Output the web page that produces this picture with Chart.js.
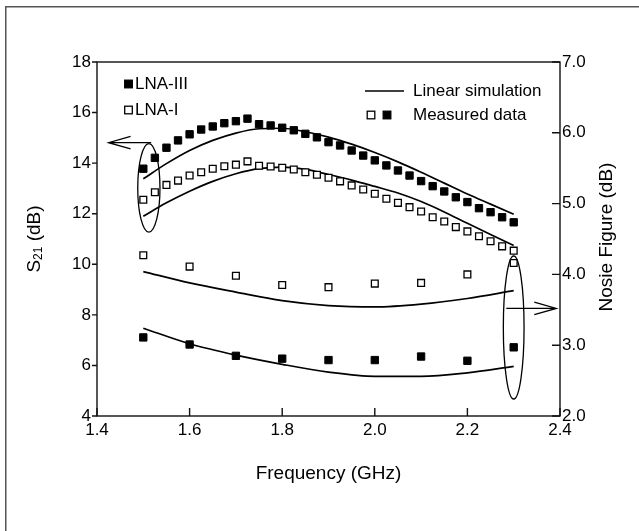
<!DOCTYPE html>
<html lang="en">
<head>
<meta charset="UTF-8">
<title>LNA S21 and Noise Figure</title>
<script src="https://cdn.jsdelivr.net/npm/chart.js@4"></script>
<style>
  html, body { margin: 0; padding: 0; background: #fff; }
  #wrap { width: 639px; height: 531px; }
</style>
</head>
<body>
<div id="wrap"><canvas id="lnaChart"></canvas></div>
<script>
// measured S21, 25 MHz steps
const freqS21 = [1.5, 1.525, 1.55, 1.575, 1.6, 1.625, 1.65, 1.675, 1.7, 1.725, 1.75, 1.775, 1.8, 1.825, 1.85, 1.875,
                 1.9, 1.925, 1.95, 1.975, 2.0, 2.025, 2.05, 2.075, 2.1, 2.125, 2.15, 2.175, 2.2, 2.225, 2.25, 2.275, 2.3];
const s21LnaIII = [13.78, 14.21, 14.61, 14.90, 15.14, 15.33, 15.45, 15.58, 15.66, 15.76, 15.54, 15.49, 15.40, 15.30, 15.16, 15.02,
                   14.83, 14.70, 14.50, 14.30, 14.11, 13.91, 13.71, 13.51, 13.29, 13.09, 12.88, 12.65, 12.46, 12.22, 12.06, 11.86, 11.66];
const s21LnaI = [12.55, 12.85, 13.14, 13.31, 13.51, 13.64, 13.78, 13.88, 13.94, 14.07, 13.90, 13.87, 13.82, 13.75, 13.64, 13.54,
                 13.42, 13.28, 13.12, 12.96, 12.79, 12.59, 12.43, 12.26, 12.09, 11.86, 11.69, 11.47, 11.30, 11.11, 10.91, 10.71, 10.54];

// linear simulation of S21, 50 MHz steps
const freqSim = [1.5, 1.55, 1.6, 1.65, 1.7, 1.75, 1.8, 1.85, 1.9, 1.95, 2.0, 2.05, 2.1, 2.15, 2.2, 2.25, 2.3];
const s21SimIII = [13.38, 13.98, 14.50, 14.90, 15.19, 15.36, 15.38, 15.24, 15.03, 14.75, 14.42, 14.05, 13.64, 13.21, 12.78, 12.38, 11.98];
const s21SimI = [11.90, 12.43, 12.89, 13.28, 13.58, 13.78, 13.84, 13.75, 13.55, 13.33, 13.08, 12.82, 12.48, 12.07, 11.62, 11.18, 10.74];

// noise figure, 100 MHz steps
const freqNF = [1.5, 1.6, 1.7, 1.8, 1.9, 2.0, 2.1, 2.2, 2.3];
const nfLnaIII = [3.11, 3.01, 2.85, 2.81, 2.79, 2.79, 2.84, 2.78, 2.97];
const nfLnaI = [4.27, 4.11, 3.98, 3.85, 3.82, 3.87, 3.88, 4.00, 4.16];
const nfSimIII = [3.24, 3.02, 2.86, 2.73, 2.62, 2.56, 2.56, 2.61, 2.70];
const nfSimI = [4.04, 3.88, 3.75, 3.63, 3.56, 3.54, 3.58, 3.66, 3.77];

// ellipse markers and arrows, in data units
const leftGroup = { x: 1.512, y: 13.02, rx: 0.024, ry: 1.75, arrowY: 14.81, tail: 1.517, tip: 1.425 };
const rightGroup = { x: 2.300, y: 3.25, rx: 0.0224, ry: 1.01, arrowY: 3.52, tail: 2.284, tip: 2.392 };

const FONT = '"Liberation Sans", Arial, sans-serif';

function pts(xs, ys) {
    return xs.map((v, i) => ({ x: v, y: ys[i] }));
}

function measured(label, xs, ys, axis, filled) {
    return {
        label: label,
        data: pts(xs, ys),
        yAxisID: axis,
        showLine: false,
        pointStyle: 'rect',
        pointRadius: filled ? 5.2 : 4.8,
        pointBackgroundColor: filled ? '#000' : '#fff',
        pointBorderColor: '#000',
        pointBorderWidth: filled ? 1 : 1.3,
        order: 0
    };
}

function simulated(label, xs, ys, axis) {
    return {
        label: label,
        data: pts(xs, ys),
        yAxisID: axis,
        showLine: true,
        borderColor: '#000',
        borderWidth: 1.7,
        pointRadius: 0,
        cubicInterpolationMode: 'monotone',
        order: 1
    };
}

function square(ctx, cx, cy, filled) {
    ctx.fillStyle = filled ? '#000' : '#fff';
    ctx.fillRect(cx - 3.8, cy - 3.8, 7.6, 7.6);
    ctx.strokeStyle = '#000';
    ctx.lineWidth = 1.3;
    ctx.strokeRect(cx - 3.8, cy - 3.8, 7.6, 7.6);
}

function arrow(ctx, x0, x1, y) {
    const dir = Math.sign(x1 - x0);
    ctx.beginPath();
    ctx.moveTo(x0, y);
    ctx.lineTo(x1, y);
    ctx.moveTo(x1 - dir * 22, y - 6.3);
    ctx.lineTo(x1, y);
    ctx.lineTo(x1 - dir * 22, y + 6.3);
    ctx.stroke();
}

function ellipse(ctx, xs, ys, g) {
    const cx = xs.getPixelForValue(g.x);
    const cy = ys.getPixelForValue(g.y);
    const rx = xs.getPixelForValue(g.x + g.rx) - cx;
    const ry = cy - ys.getPixelForValue(g.y + g.ry);
    ctx.beginPath();
    ctx.ellipse(cx, cy, rx, ry, 0, 0, Math.PI * 2);
    ctx.stroke();
}

const overlay = {
    id: 'overlay',
    afterDraw(chart) {
        const { ctx, chartArea: a, scales: { x, y, y2 } } = chart;
        ctx.save();

        // outer frame, only top and left edges show in the original
        ctx.fillStyle = '#555';
        ctx.fillRect(5, 6, 634, 1.5);
        ctx.fillRect(5, 6, 1.5, 525);

        // plot box + ticks
        ctx.strokeStyle = '#111';
        ctx.lineWidth = 1.4;
        ctx.strokeRect(a.left, a.top, a.right - a.left, a.bottom - a.top);
        ctx.beginPath();
        y.ticks.forEach(t => {
            const p = y.getPixelForValue(t.value);
            ctx.moveTo(a.left - 5, p); ctx.lineTo(a.left, p);
        });
        y2.ticks.forEach(t => {
            const p = y2.getPixelForValue(t.value);
            ctx.moveTo(a.right - 8, p); ctx.lineTo(a.right, p);
        });
        x.ticks.forEach(t => {
            const p = x.getPixelForValue(t.value);
            ctx.moveTo(p, a.bottom); ctx.lineTo(p, a.bottom - 8);
        });
        ctx.stroke();

        // ellipses and arrows
        ctx.lineWidth = 1.3;
        ctx.strokeStyle = '#000';
        ellipse(ctx, x, y, leftGroup);
        ellipse(ctx, x, y2, rightGroup);
        arrow(ctx, x.getPixelForValue(leftGroup.tail), x.getPixelForValue(leftGroup.tip), y.getPixelForValue(leftGroup.arrowY));
        arrow(ctx, x.getPixelForValue(rightGroup.tail), x.getPixelForValue(rightGroup.tip), y2.getPixelForValue(rightGroup.arrowY));

        // legends
        ctx.font = '17px ' + FONT;
        ctx.textBaseline = 'middle';
        ctx.textAlign = 'left';
        square(ctx, 128.5, 84, true);
        square(ctx, 128.5, 110, false);
        ctx.fillStyle = '#000';
        ctx.fillText('LNA-III', 135, 84);
        ctx.fillText('LNA-I', 135, 110);

        ctx.lineWidth = 1.6;
        ctx.beginPath();
        ctx.moveTo(365, 91);
        ctx.lineTo(404, 91);
        ctx.stroke();
        square(ctx, 371, 115, false);
        square(ctx, 387, 115, true);
        ctx.fillStyle = '#000';
        ctx.fillText('Linear simulation', 413, 91);
        ctx.fillText('Measured data', 413, 115);

        // axis titles
        const midY = (a.top + a.bottom) / 2;
        ctx.font = '19px ' + FONT;
        ctx.textAlign = 'center';
        ctx.fillText('Frequency (GHz)', (a.left + a.right) / 2, 474);

        ctx.save();
        ctx.translate(607, midY - 2);
        ctx.rotate(-Math.PI / 2);
        ctx.fillText('Nosie Figure (dB)', 0, 0);
        ctx.restore();

        // S21 with subscript
        ctx.save();
        ctx.translate(35, midY);
        ctx.rotate(-Math.PI / 2);
        ctx.textAlign = 'left';
        const bigFont = '19px ' + FONT, smallFont = '12px ' + FONT;
        ctx.font = bigFont;
        const wS = ctx.measureText('S').width;
        const wRest = ctx.measureText(' (dB)').width;
        ctx.font = smallFont;
        const wSub = ctx.measureText('21').width;
        let px = -(wS + wSub + wRest) / 2;
        ctx.font = bigFont;
        ctx.fillText('S', px, 0);
        px += wS;
        ctx.font = smallFont;
        ctx.fillText('21', px, 4);
        px += wSub;
        ctx.font = bigFont;
        ctx.fillText(' (dB)', px, 0);
        ctx.restore();

        ctx.restore();
    }
};

const tickFont = { family: FONT, size: 17 };

new Chart(document.getElementById('lnaChart'), {
    type: 'scatter',
    data: {
        datasets: [
            measured('LNA-III S21', freqS21, s21LnaIII, 'y', true),
            measured('LNA-I S21', freqS21, s21LnaI, 'y', false),
            simulated('LNA-III S21 sim', freqSim, s21SimIII, 'y'),
            simulated('LNA-I S21 sim', freqSim, s21SimI, 'y'),
            measured('LNA-III NF', freqNF, nfLnaIII, 'y2', true),
            measured('LNA-I NF', freqNF, nfLnaI, 'y2', false),
            simulated('LNA-III NF sim', freqNF, nfSimIII, 'y2'),
            simulated('LNA-I NF sim', freqNF, nfSimI, 'y2')
        ]
    },
    options: {
        responsive: true,
        maintainAspectRatio: false,
        animation: false,
        events: [],
        layout: { padding: { top: 62, left: 0, right: 0, bottom: 0 } },
        plugins: {
            legend: { display: false },
            tooltip: { enabled: false }
        },
        scales: {
            x: {
                type: 'linear',
                min: 1.4,
                max: 2.4,
                grid: { display: false, drawTicks: false },
                border: { display: false },
                ticks: { stepSize: 0.2, font: tickFont, color: '#000', padding: 4,
                         callback: v => v.toFixed(1) },
                afterFit: s => { s.height = 115; }
            },
            y: {
                position: 'left',
                min: 4,
                max: 18,
                grid: { display: false, drawTicks: false },
                border: { display: false },
                ticks: { stepSize: 2, font: tickFont, color: '#000', padding: 6 },
                afterFit: s => { s.width = 97; }
            },
            y2: {
                position: 'right',
                min: 2,
                max: 7,
                grid: { display: false, drawTicks: false },
                border: { display: false },
                ticks: { stepSize: 1, font: tickFont, color: '#000', padding: 2,
                         callback: v => v.toFixed(1) },
                afterFit: s => { s.width = 79; }
            }
        }
    },
    plugins: [overlay]
});
</script>
</body>
</html>
